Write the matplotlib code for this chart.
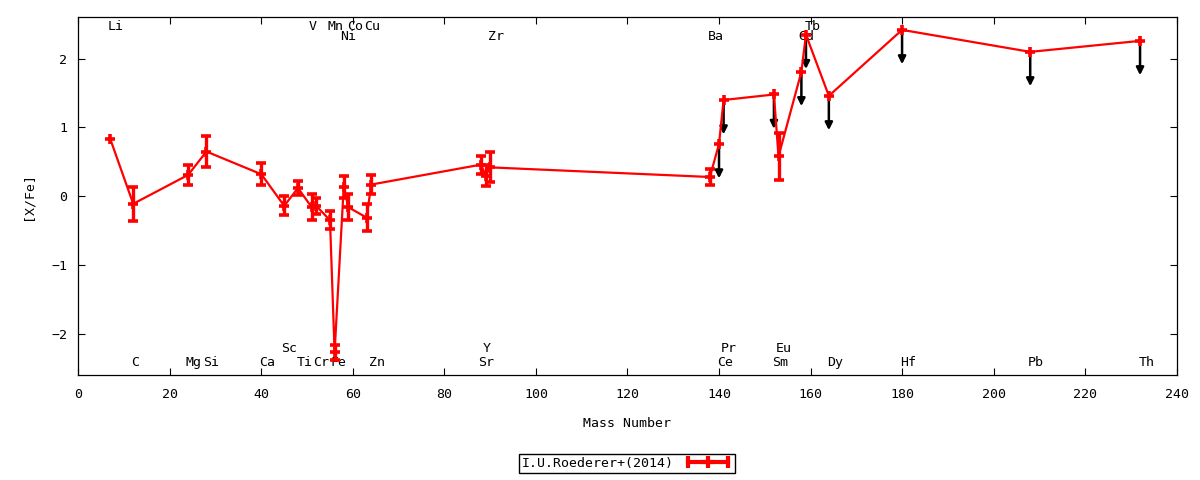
import matplotlib
matplotlib.use("Agg")
import matplotlib.pyplot as plt
from matplotlib.lines import Line2D
from matplotlib.legend_handler import HandlerLine2D, HandlerTuple

plt.rcParams["font.family"] = ["DejaVu Sans Mono"]
plt.rcParams["font.size"] = 9.5

# -----------------------------
# Abundances (mass number, [X/Fe], error, upper limit flag)
# -----------------------------
mass = [7, 12, 24, 28, 40, 45, 48, 51, 52, 55, 56, 58, 59, 63, 64,
        88, 89, 90, 138, 140, 141, 152, 153, 158, 159, 164, 180, 208, 232]
xfe = [0.83, -0.11, 0.31, 0.65, 0.32, -0.14, 0.12, -0.16, -0.14, -0.35, -2.27, 0.14, -0.16, -0.31, 0.17,
       0.46, 0.30, 0.42, 0.28, 0.76, 1.40, 1.48, 0.58, 1.81, 2.35, 1.46, 2.42, 2.10, 2.26]
err = [0.0, 0.25, 0.15, 0.23, 0.16, 0.14, 0.10, 0.19, 0.12, 0.13, 0.11, 0.16, 0.19, 0.20, 0.14,
       0.13, 0.15, 0.22, 0.12, 0.0, 0.0, 0.0, 0.34, 0.0, 0.0, 0.0, 0.0, 0.0, 0.0]
upper = [False] * 19 + [True, True, True, False, True, True, True, True, True, True]
ARROW_LEN = 0.5

# element labels (text, x, y)
label_text = ["Li", "V", "Mn", "Co", "Cu", "Tb",
              "Ni", "Zr", "Ba", "Gd",
              "C", "Mg", "Si", "Ca", "Ti", "Cr", "Fe", "Zn", "Sr", "Ce", "Sm", "Dy", "Hf", "Pb", "Th",
              "Sc", "Y", "Pr", "Eu"]
label_x = [8.2, 51.3, 56.3, 60.5, 64.1, 160.4,
           59.0, 91.2, 139.3, 159.1,
           12.4, 25.1, 29.0, 41.2, 49.4, 53.0, 56.8, 65.2, 89.1, 141.3, 153.3, 165.3, 181.3, 209.2, 233.5,
           46.1, 89.3, 142.2, 154.2]
label_y = [2.47] * 6 + [2.32] * 4 + [-2.42] * 15 + [-2.22] * 4

fig = plt.figure(figsize=(12, 4.8), dpi=100)
ax = fig.add_axes([0.06525, 0.21875, 0.9153, 0.7448])

ax.plot(mass, xfe, color="red", lw=1.6, marker="+", ms=7, mew=2.6, zorder=4)

m_e = [m for m, e in zip(mass, err) if e > 0]
v_e = [v for v, e in zip(xfe, err) if e > 0]
e_e = [e for e in err if e > 0]
ax.errorbar(m_e, v_e, yerr=e_e, fmt="none", ecolor="red", elinewidth=2.4,
            capsize=3.5, capthick=2.6, zorder=4)

for m, v, u in zip(mass, xfe, upper):
    if u:
        ax.annotate("", xy=(m, v - ARROW_LEN), xytext=(m, v),
                    arrowprops=dict(arrowstyle="-|>", color="black", lw=1.8,
                                    mutation_scale=11, shrinkA=0, shrinkB=0),
                    zorder=2)

for t, x, y in zip(label_text, label_x, label_y):
    ax.text(x, y, t, ha="center", va="center")

ax.set_xlim(0, 240)
ax.set_ylim(-2.6, 2.6)
ax.set_xticks(range(0, 241, 20))
ax.set_yticks([-2, -1, 0, 1, 2])
ax.tick_params(direction="in", length=5, width=0.8, top=True, right=True)
ax.tick_params(axis="x", pad=9)
ax.tick_params(axis="y", pad=8)
for s in ax.spines.values():
    s.set_linewidth(0.9)

ax.set_xlabel("Mass Number", labelpad=12)
ax.set_ylabel("[X/Fe]", labelpad=12)

# gnuplot-style key sample: line with end caps and a centre cross
caps = Line2D([0], [0], color="red", lw=3, marker="|", ms=9, mew=3)
plus = Line2D([0], [0], color="red", ls="none", marker="+", ms=8, mew=3)
leg = fig.legend(handles=[(caps, plus)], labels=["I.U.Roederer+(2014)"],
                 loc="center", bbox_to_anchor=(0.5225, 0.0345),
                 markerfirst=False, fancybox=False, edgecolor="black",
                 framealpha=1, handlelength=3.6, handletextpad=0.8,
                 borderpad=0.2, borderaxespad=0,
                 handler_map={caps: HandlerLine2D(numpoints=2),
                              plus: HandlerLine2D(numpoints=1),
                              tuple: HandlerTuple(ndivide=1, pad=0)})
leg.get_frame().set_linewidth(1.0)

fig.savefig("out.png", dpi=100)
